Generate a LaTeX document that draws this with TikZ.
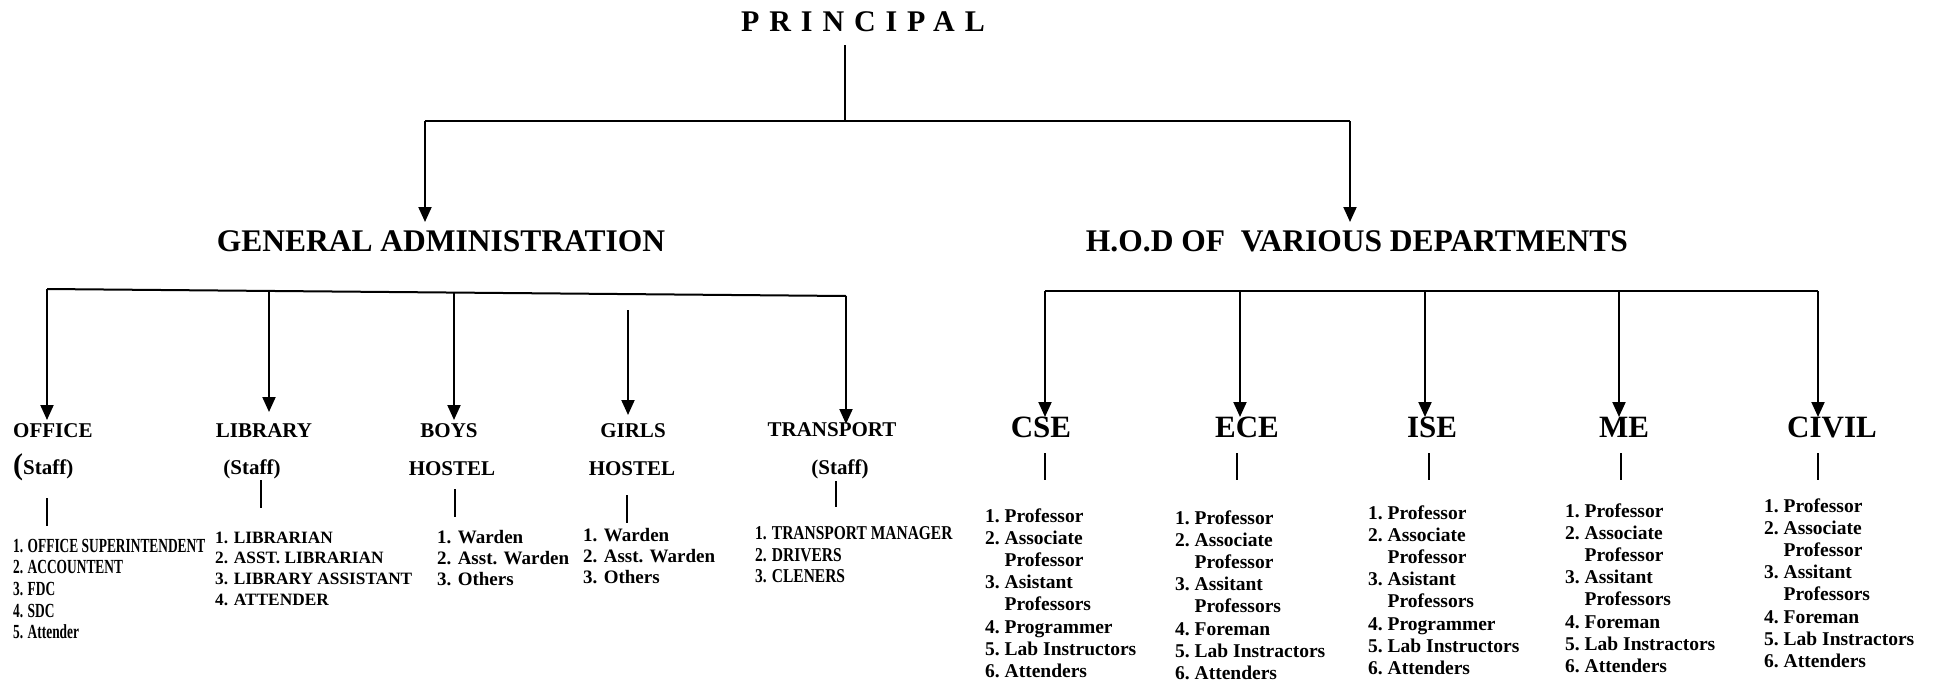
\documentclass[tikz,border=0pt]{standalone}
\usepackage{fontspec}
\usepackage{graphicx}
\setmainfont{Liberation Serif}
\newfontfamily\spacedf[LetterSpace=33]{Liberation Serif}
\usetikzlibrary{arrows.meta}
\tikzset{
  lbl/.style={inner sep=0pt, anchor=base, font=\bfseries\fontsize{21}{21}\selectfont},
  dept/.style={inner sep=0pt, anchor=base, font=\bfseries\fontsize{31}{31}\selectfont},
  big/.style={inner sep=0pt, anchor=base, font=\bfseries\fontsize{31.5}{31.5}\selectfont},
  lst/.style={inner sep=0pt, anchor=base west},
  dlist/.style={lst, font=\bfseries\fontsize{19.5}{22.1}\selectfont},
  hlist/.style={lst, font=\bfseries\fontsize{19}{21}\selectfont},
  bar/.style={line width=2pt},
  arr/.style={line width=2pt, -{Triangle[length=15pt,width=13pt]}},
  tick/.style={line width=1.6pt},
}
\begin{document}
\begin{tikzpicture}[x=1pt,y=-1pt]
\useasboundingbox[fill=white] (0,0) rectangle (1939,680);

% top level
\node[inner sep=0pt, anchor=base west, font=\spacedf\bfseries\fontsize{30}{30}\selectfont] (pr) at (741,31) {PRINCIPAL};
\node[big] (ga) at (441,251) {GENERAL ADMINISTRATION};
\node[big] (hod) at (1357,251) {H.O.D OF\ \ VARIOUS DEPARTMENTS};

\coordinate (pTop) at (845,45);
\coordinate (pj) at (845,121);
\coordinate (gaJ) at (425,121);
\coordinate (hodJ) at (1350,121);
\coordinate (gaTip) at (425,222);
\coordinate (hodTip) at (1350,222);
\draw[bar] (pTop) -- (pj);
\draw[bar] (gaJ) -- (hodJ);
\draw[arr] (gaJ) -- (gaTip);
\draw[arr] (hodJ) -- (hodTip);

% general administration branches
\node[lbl, anchor=base west] (off) at (13,437) {OFFICE};
\node[lbl, anchor=base west] (offS) at (13,474) {{\fontsize{30}{30}\selectfont(}Staff)};
\node[lbl] (lib) at (264,437) {LIBRARY};
\node[lbl] (libS) at (252,474) {(Staff)};
\node[lbl] (boys) at (449,437) {BOYS};
\node[lbl] (boysH) at (452,475) {HOSTEL};
\node[lbl] (girls) at (633,437) {GIRLS};
\node[lbl] (girlsH) at (632,475) {HOSTEL};
\node[lbl] (tr) at (832,436) {TRANSPORT};
\node[lbl] (trS) at (840,474) {(Staff)};

\coordinate (oJ) at (47,289);
\coordinate (tJ) at (846,296);
\coordinate (lJ) at (269,291);
\coordinate (bJ) at (454,292.6);
\coordinate (gJ) at (628,310);
\coordinate (oTip) at (47,420);
\coordinate (lTip) at (269,412);
\coordinate (bTip) at (454,420);
\coordinate (gTip) at (628,415);
\coordinate (tTip) at (846,424);
\draw[bar] (oJ) -- (tJ);
\draw[arr] (oJ) -- (oTip);
\draw[arr] (lJ) -- (lTip);
\draw[arr] (bJ) -- (bTip);
\draw[arr] (gJ) -- (gTip);
\draw[arr] (tJ) -- (tTip);

% ticks under labels
\coordinate (oa) at (47,498);  \coordinate (ob) at (47,526);
\coordinate (la) at (261,480); \coordinate (lb) at (261,508);
\coordinate (ba) at (455,489); \coordinate (bb) at (455,517);
\coordinate (ha) at (627,495); \coordinate (hb) at (627,523);
\coordinate (ta) at (836,481); \coordinate (tb) at (836,507);
\draw[tick] (oa) -- (ob);
\draw[tick] (la) -- (lb);
\draw[tick] (ba) -- (bb);
\draw[tick] (ha) -- (hb);
\draw[tick] (ta) -- (tb);

% staff lists
\node[lst, font=\bfseries\fontsize{20}{21.7}\selectfont] (offL) at (13,552)
  {\scalebox{0.67}[1]{\begin{tabular}[t]{@{}l@{}}1. OFFICE SUPERINTENDENT\\2. ACCOUNTENT\\3. FDC\\4. SDC\\5. Attender\end{tabular}}};
\node[lst, font=\bfseries\fontsize{17.3}{20.7}\selectfont] (libL) at (215,543)
  {\begin{tabular}[t]{@{}l@{}}1. LIBRARIAN\\2. ASST. LIBRARIAN\\3. LIBRARY ASSISTANT\\4. ATTENDER\end{tabular}};
\node[hlist] (boysL) at (437,543)
  {\begin{tabular}[t]{@{}l@{}}1. Warden\\2. Asst. Warden\\3. Others\end{tabular}};
\node[hlist] (girlsL) at (583,541)
  {\begin{tabular}[t]{@{}l@{}}1. Warden\\2. Asst. Warden\\3. Others\end{tabular}};
\node[lst, font=\bfseries\fontsize{19.6}{21.5}\selectfont] (trL) at (755,539.5)
  {\scalebox{0.79}[1]{\begin{tabular}[t]{@{}l@{}}1. TRANSPORT MANAGER\\2. DRIVERS\\3. CLENERS\end{tabular}}};

% departments
\node[dept] (cse) at (1041,437) {CSE};
\node[dept] (ece) at (1247,437) {ECE};
\node[dept] (ise) at (1432,437) {ISE};
\node[dept] (me) at (1624,437) {ME};
\node[dept] (civil) at (1832,437) {CIVIL};

\coordinate (cJ) at (1045,291);
\coordinate (eJ) at (1240,291);
\coordinate (iJ) at (1425,291);
\coordinate (mJ) at (1619,291);
\coordinate (vJ) at (1818,291);
\coordinate (cTip) at (1045,417);
\coordinate (eTip) at (1240,417);
\coordinate (iTip) at (1425,417);
\coordinate (mTip) at (1619,417);
\coordinate (vTip) at (1818,417);
\draw[bar] (cJ) -- (vJ);
\draw[arr] (cJ) -- (cTip);
\draw[arr] (eJ) -- (eTip);
\draw[arr] (iJ) -- (iTip);
\draw[arr] (mJ) -- (mTip);
\draw[arr] (vJ) -- (vTip);

\coordinate (ca) at (1045,453); \coordinate (cb) at (1045,480);
\coordinate (ea) at (1237,453); \coordinate (eb) at (1237,480);
\coordinate (ia) at (1429,453); \coordinate (ib) at (1429,480);
\coordinate (ma) at (1621,453); \coordinate (mb) at (1621,480);
\coordinate (va) at (1818,453); \coordinate (vb) at (1818,480);
\draw[tick] (ca) -- (cb);
\draw[tick] (ea) -- (eb);
\draw[tick] (ia) -- (ib);
\draw[tick] (ma) -- (mb);
\draw[tick] (va) -- (vb);

\node[dlist] (cseL) at (985,522.5)
  {\begin{tabular}[t]{@{}l@{\ }l@{}}1.&Professor\\2.&Associate\\&Professor\\3.&Asistant\\&Professors\\4.&Programmer\\5.&Lab Instructors\\6.&Attenders\end{tabular}};
\node[dlist] (eceL) at (1175,524.5)
  {\begin{tabular}[t]{@{}l@{\ }l@{}}1.&Professor\\2.&Associate\\&Professor\\3.&Assitant\\&Professors\\4.&Foreman\\5.&Lab Instractors\\6.&Attenders\end{tabular}};
\node[dlist] (iseL) at (1368,519.5)
  {\begin{tabular}[t]{@{}l@{\ }l@{}}1.&Professor\\2.&Associate\\&Professor\\3.&Asistant\\&Professors\\4.&Programmer\\5.&Lab Instructors\\6.&Attenders\end{tabular}};
\node[dlist] (meL) at (1565,517.5)
  {\begin{tabular}[t]{@{}l@{\ }l@{}}1.&Professor\\2.&Associate\\&Professor\\3.&Assitant\\&Professors\\4.&Foreman\\5.&Lab Instractors\\6.&Attenders\end{tabular}};
\node[dlist] (civilL) at (1764,512.5)
  {\begin{tabular}[t]{@{}l@{\ }l@{}}1.&Professor\\2.&Associate\\&Professor\\3.&Assitant\\&Professors\\4.&Foreman\\5.&Lab Instractors\\6.&Attenders\end{tabular}};
\end{tikzpicture}
\end{document}
